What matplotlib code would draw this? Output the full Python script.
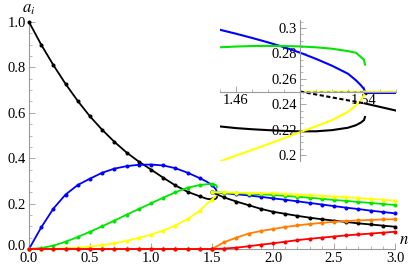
import matplotlib
matplotlib.use("Agg")
import matplotlib.pyplot as plt
from matplotlib.ticker import FixedLocator, FuncFormatter
import matplotlib.transforms as mtransforms

plt.rcParams['font.family'] = ['Liberation Serif', 'DejaVu Serif']
plt.rcParams['mathtext.fontset'] = 'stix'

# ---------------- data ----------------
# low branch (n = 0 .. 1.5, step 0.1)
n_lo = [0.0, 0.1, 0.2, 0.3, 0.4, 0.5, 0.6, 0.7, 0.8, 0.9, 1.0, 1.1, 1.2, 1.3, 1.4, 1.5]
black_lo = [1.000, 0.900, 0.810, 0.727, 0.652, 0.584, 0.525, 0.472, 0.425, 0.385, 0.350, 0.314, 0.280, 0.252, 0.232, 0.2186]
blue_lo = [0.000, 0.095, 0.178, 0.240, 0.282, 0.310, 0.336, 0.354, 0.365, 0.371, 0.372, 0.368, 0.356, 0.336, 0.312, 0.2806]
green_lo = [0.000, 0.004, 0.015, 0.032, 0.053, 0.076, 0.100, 0.125, 0.151, 0.176, 0.201, 0.226, 0.250, 0.270, 0.282, 0.2855]
yellow_lo = [0.000, 0.000, 0.001, 0.003, 0.006, 0.011, 0.017, 0.025, 0.036, 0.049, 0.063, 0.081, 0.103, 0.132, 0.168, 0.2180]
orange_lo = [0.0] * 16
red_lo = [0.0] * 16

# fold region of the low branch (n = 1.45 .. 1.5406)
n_fold = [1.45, 1.46, 1.47, 1.48, 1.49, 1.50, 1.51, 1.52, 1.53, 1.535, 1.538, 1.540, 1.5406]
black_fold = [0.2225, 0.2212, 0.2203, 0.2196, 0.2190, 0.2186, 0.2187, 0.2196, 0.2215, 0.2235, 0.2255, 0.2275, 0.2299]
blue_fold = [0.2986, 0.2955, 0.2922, 0.2887, 0.2849, 0.2806, 0.2757, 0.2703, 0.2640, 0.2588, 0.2550, 0.2520, 0.2500]
green_fold = [0.2848, 0.2854, 0.2858, 0.2859, 0.2858, 0.2855, 0.2848, 0.2837, 0.2818, 0.2805, 0.2772, 0.2750, 0.2712]
yellow_fold = [0.1950, 0.1995, 0.2040, 0.2085, 0.2132, 0.2180, 0.2226, 0.2275, 0.2340, 0.2390, 0.2430, 0.2470, 0.2500]

# high branch (n = 1.5 .. 3.0, step 0.1)
n_hi = [1.5, 1.6, 1.7, 1.8, 1.9, 2.0, 2.1, 2.2, 2.3, 2.4, 2.5, 2.6, 2.7, 2.8, 2.9, 3.0]
black_hi = [0.250, 0.227, 0.209, 0.193, 0.177, 0.164, 0.155, 0.146, 0.138, 0.131, 0.125, 0.119, 0.113, 0.108, 0.103, 0.098]
blue_hi = [0.250, 0.246, 0.241, 0.236, 0.230, 0.223, 0.217, 0.210, 0.203, 0.196, 0.189, 0.182, 0.176, 0.169, 0.163, 0.157]
green_hi = [0.250, 0.248, 0.246, 0.244, 0.241, 0.238, 0.234, 0.230, 0.226, 0.221, 0.216, 0.212, 0.207, 0.203, 0.198, 0.194]
yellow_hi = [0.250, 0.249, 0.248, 0.247, 0.246, 0.245, 0.242, 0.240, 0.237, 0.234, 0.231, 0.228, 0.224, 0.220, 0.217, 0.213]
orange_hi = [0.000, 0.030, 0.050, 0.068, 0.079, 0.088, 0.097, 0.104, 0.110, 0.115, 0.120, 0.123, 0.126, 0.128, 0.130, 0.131]
red_hi = [0.000, 0.002, 0.006, 0.012, 0.019, 0.025, 0.032, 0.039, 0.045, 0.050, 0.055, 0.060, 0.064, 0.068, 0.072, 0.076]

# inset: unstable (dashed) and upper branch near the fold
n_uns = [1.50, 1.5406]
black_uns = [0.250, 0.2406]
yg_uns = [0.250, 0.250]
n_up = [1.5406, 1.56]
black_up = [0.2406, 0.235]
byg_up = [0.250, 0.250]

x_ticks = [0, 0.5, 1.0, 1.5, 2.0, 2.5, 3.0]
y_ticks = [0, 0.2, 0.4, 0.6, 0.8, 1.0]
inset_x_ticks = [1.46, 1.54]
inset_y_ticks = [0.20, 0.22, 0.24, 0.26, 0.28, 0.30]
inset_y_labels = ["0.2", "0.22", "0.24", "0.26", "0.28", "0.3"]

BLACK, BLUE, GREEN, YELLOW, ORANGE, RED = '#000000', '#0000ff', '#00e600', '#ffff00', '#ff8000', '#ff0000'
AXC = '#9a9a9a'

fig = plt.figure(figsize=(4.15, 2.68), dpi=100)
ax = fig.add_axes([29/415, 19/268, 366/415, 227/268])
ax.set_xlim(0, 3)
ax.set_ylim(0, 1)

lw = 1.3
ms = 1.9

lo_sets = [(black_lo, black_fold, BLACK), (blue_lo, blue_fold, BLUE),
           (green_lo, green_fold, GREEN), (yellow_lo, yellow_fold, YELLOW)]
for lo, fold, c in lo_sets:
    xs = n_lo[:15] + n_fold
    ys = lo[:15] + fold
    ax.plot(xs, ys, color=c, lw=lw, clip_on=False, zorder=3)
    ax.plot(n_lo, lo, ls='none', marker='o', ms=ms, color=c, clip_on=False, zorder=3)

hi_sets = [(black_hi, BLACK), (blue_hi, BLUE), (green_hi, GREEN), (yellow_hi, YELLOW),
           (orange_hi, ORANGE), (red_hi, RED)]
for hi, c in hi_sets:
    ax.plot(n_hi, hi, color=c, lw=lw, marker='o', ms=ms, clip_on=False, zorder=3)

for lo, c in [(orange_lo, ORANGE), (red_lo, RED)]:
    ax.plot(n_lo, lo, color=c, lw=lw, marker='o', ms=ms, clip_on=False, zorder=3)

for s in ['top', 'right']:
    ax.spines[s].set_visible(False)
for s in ['left', 'bottom']:
    ax.spines[s].set_color(AXC)
    ax.spines[s].set_linewidth(0.8)

ax.xaxis.set_major_locator(FixedLocator(x_ticks))
ax.xaxis.set_minor_locator(FixedLocator([i / 10 for i in range(31) if i % 5]))
ax.yaxis.set_major_locator(FixedLocator(y_ticks))
ax.yaxis.set_minor_locator(FixedLocator([i / 20 for i in range(21) if i % 4]))
fmt = FuncFormatter(lambda v, p: f"{v:.1f}")
ax.xaxis.set_major_formatter(fmt)
ax.yaxis.set_major_formatter(fmt)
ax.tick_params(which='major', direction='in', length=4, width=0.6, color=AXC, labelsize=10.5, pad=2)
ax.tick_params(which='minor', direction='in', length=2.2, width=0.5, color=AXC)
ax.set_facecolor('none')

fig.canvas.draw()
lab0 = ax.yaxis.get_major_ticks()[0].label1
lab0.set_transform(lab0.get_transform() + mtransforms.ScaledTranslation(0, 4/100, fig.dpi_scale_trans))

fig.text(29/415, 1 - 9/268, r'$a_i$', fontsize=12, ha='center', va='center')
fig.text(404/415, 1 - 240/268, r'$n$', fontsize=12, ha='center', va='center')

# ---------------- inset ----------------
axi = fig.add_axes([220/415, (268-161)/268, 176/415, 141/268])
axi.set_xlim(1.45, 1.56)
axi.set_ylim(0.1953, 0.3063)
axi.set_facecolor('none')
lwi = 1.5
axi.plot(n_fold, black_fold, color=BLACK, lw=lwi)
axi.plot(n_fold, blue_fold, color=BLUE, lw=lwi)
axi.plot(n_fold, green_fold, color=GREEN, lw=lwi)
axi.plot(n_fold, yellow_fold, color=YELLOW, lw=lwi)
axi.plot(n_up, byg_up, color=BLUE, lw=2.2)
axi.plot(n_up, byg_up, color=YELLOW, lw=1.4)
axi.plot(n_up, black_up, color=BLACK, lw=lwi)
axi.plot(n_uns, yg_uns, color='#99cc00', lw=lwi, ls=(0, (2, 1.2)))
axi.plot(n_uns, yg_uns, color=YELLOW, lw=lwi, ls=(1.6, (1.6, 1.6)))
axi.plot(n_uns, black_uns, color=BLACK, lw=lwi, ls=(0, (2, 1.2)))

for s in ['top', 'right']:
    axi.spines[s].set_visible(False)
axi.spines['left'].set_position(('data', 1.5))
axi.spines['bottom'].set_position(('data', 0.25))
for s in ['left', 'bottom']:
    axi.spines[s].set_color(AXC)
    axi.spines[s].set_linewidth(0.8)
axi.xaxis.set_major_locator(FixedLocator(inset_x_ticks))
axi.xaxis.set_minor_locator(FixedLocator([1.45, 1.47, 1.48, 1.49, 1.51, 1.52, 1.53, 1.55, 1.56]))
axi.yaxis.set_major_locator(FixedLocator(inset_y_ticks))
axi.yaxis.set_minor_locator(FixedLocator([0.205, 0.21, 0.215, 0.225, 0.23, 0.235, 0.245, 0.255,
                                          0.265, 0.27, 0.275, 0.285, 0.29, 0.295, 0.305]))
axi.xaxis.set_major_formatter(FuncFormatter(lambda v, p: f"{v:.2f}"))
axi.set_yticklabels(inset_y_labels)
axi.tick_params(which='major', direction='in', length=4, width=0.6, color=AXC, labelsize=10.5, pad=2)
axi.tick_params(which='minor', direction='in', length=2.2, width=0.5, color=AXC)

fig.savefig('out.png', dpi=100)
